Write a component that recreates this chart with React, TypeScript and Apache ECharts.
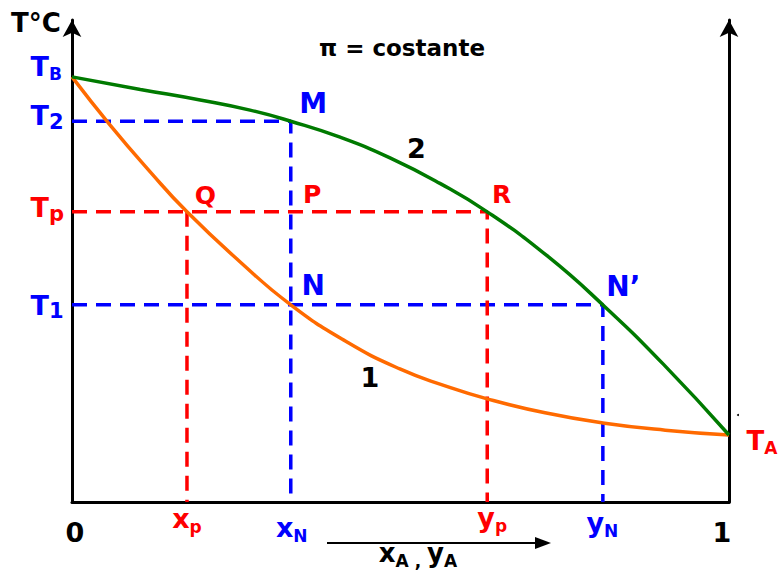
import { useEffect, useRef } from 'react';
import * as echarts from 'echarts';

const FONT = '"DejaVu Sans", "Liberation Sans", Arial, sans-serif';
const BLUE = '#0000ff';
const RED = '#ff0000';
const BLACK = '#000000';
const ORANGE = '#ff6a00';
const GREEN = '#007a00';

// Boiling points of the pure components and the isotherms
const T_B = 88.2;
const T_2 = 79;
const T_P = 60.2;
const T_1 = 40.9;
const T_A = 13.9;

// Compositions read on the isotherms (mole fraction of A)
const X_P = 0.175;
const X_N = 0.333;
const Y_P = 0.632;
const Y_N = 0.808;

// Curve 1: boiling (liquid) curve
const liquidX = [0, 0.058, 0.119, X_P, 0.256, X_N, 0.416, 0.499, 0.568, Y_P, 0.72, Y_N, 0.903, 1];
const liquidT = [T_B, 78.2, 68.5, T_P, 49.8, T_1, 33.4, 27.6, 24.1, 21.4, 18.5, 16.4, 14.9, T_A];

// Curve 2: dew (vapour) curve
const vaporX = [0, 0.104, 0.195, 0.271, X_N, 0.408, 0.484, 0.56, Y_P, 0.723, Y_N, 0.9, 1];
const vaporT = [T_B, 85.6, 83.4, 81.3, T_2, 75.7, 71.4, 66.1, T_P, 51.1, T_1, 28.6, T_A];

// Tick labels of the temperature axis
const tempTicks = [T_B, T_2, T_P, T_1];
const tempTickText = [['T', 'B'], ['T', '2'], ['T', 'p'], ['T', '1']];

// Tick labels of the composition axis
const compTicks = [0, X_P, X_N, Y_P, Y_N, 1];
const compTickText = [['0', ''], ['x', 'p'], ['x', 'N'], ['y', 'p'], ['y', 'N'], ['1', '']];

// Named points of the diagram
const pointNames = ['M', 'Q', 'P', 'R', 'N', 'N\u2019'];
const pointX = [X_N, X_P, X_N, Y_P, X_N, Y_N];
const pointT = [T_2, T_P, T_P, T_P, T_1, T_1];

// ---- label styling -------------------------------------------------------

function richSub(main: string, sub: string, color: string, ms: number, ss: number, drop: number) {
  const ls = ss + 2;
  const lm = Math.round(ls + 2 * (drop + 0.346 * (ms - ss)));
  const text = sub ? `{m|${main}}{s|${sub}}` : `{m|${main}}`;
  return {
    text,
    rich: {
      m: { color, fill: color, fontFamily: FONT, fontWeight: 'bold', fontSize: ms, lineHeight: lm },
      s: {
        color,
        fill: color,
        fontFamily: FONT,
        fontWeight: 'bold',
        fontSize: ss,
        lineHeight: ls,
        verticalAlign: 'bottom',
      },
    },
  };
}

function labelItem(
  x: number,
  t: number,
  r: { text: string; rich: any },
  dx: number,
  dy: number,
  align: 'left' | 'center' | 'right' = 'center'
) {
  return {
    value: [x, t],
    label: {
      show: true,
      opacity: 1,
      position: [dx, dy],
      align,
      verticalAlign: 'middle',
      formatter: () => r.text,
      rich: r.rich,
    },
  };
}

const tempTickColors = [BLUE, BLUE, RED, BLUE];
const tempTickSub = [17, 21, 21, 21];
const tempTickDy = [-10, -5, -3.5, 1];

const compTickColors = [BLACK, RED, BLUE, RED, BLUE, BLACK];
const compTickDx = [3.5, 0.5, 1.5, 5.5, 0, -6.5];
const compTickDy = [30.5, 16.5, 26, 15.5, 20.5, 30.5];

const pointColors = [BLUE, RED, RED, RED, BLUE, BLUE];
const pointSizes = [28, 25, 25, 25, 28, 28];
const pointDx = [23, 19, 22, 15, 23, 21];
const pointDy = [-17, -16, -17, -17, -19, -18];

function buildLabels() {
  const items: any[] = [];
  tempTicks.forEach((t, i) => {
    const [m, s] = tempTickText[i];
    items.push(labelItem(0, t, richSub(m, s, tempTickColors[i], 27, tempTickSub[i], 3), -41, tempTickDy[i], 'left'));
  });
  compTicks.forEach((x, i) => {
    const [m, s] = compTickText[i];
    items.push(labelItem(x, 0, richSub(m, s, compTickColors[i], 27, 17, 4), compTickDx[i], compTickDy[i]));
  });
  pointNames.forEach((n, i) => {
    items.push(labelItem(pointX[i], pointT[i], richSub(n, '', pointColors[i], pointSizes[i], 17, 0), pointDx[i], pointDy[i]));
  });
  // pure component A on the right axis
  items.push(labelItem(1, T_A, richSub('T', 'A', RED, 26, 17, 3), 18, 6.5, 'left'));
  // curve numbers
  items.push(labelItem(0.454, 25.7, richSub('1', '', BLACK, 27, 17, 0), 0, 0));
  items.push(labelItem(0.525, 73.2, richSub('2', '', BLACK, 27, 17, 0), 0, 0));
  return items;
}

const pairs = (xs: number[], ys: number[]) => xs.map((x, i) => [x, ys[i]]);

function guide(data: number[][], color: string) {
  return {
    type: 'line',
    data,
    symbol: 'none',
    silent: true,
    z: 2,
    lineStyle: { color, width: 3.5, type: [15, 9] },
  };
}

const axisLineStyle = { color: BLACK, width: 3 };

function valueAxis(position: 'left' | 'right') {
  return {
    type: 'value',
    min: 0,
    max: 100,
    position,
    axisLine: {
      show: true,
      onZero: false,
      symbol: ['none', 'arrow'],
      symbolSize: [14, 17],
      lineStyle: axisLineStyle,
    },
    axisTick: { show: false },
    axisLabel: { show: false },
    splitLine: { show: false },
  };
}

export default function App() {
  const ref = useRef<HTMLDivElement>(null);

  useEffect(() => {
    if (!ref.current) return;
    const chart = echarts.init(ref.current, undefined, { renderer: 'svg' });
    const xA = richSub('x', 'A , ', BLACK, 26, 17, 4);
    const yA = richSub('y', 'A', BLACK, 26, 17, 4);

    chart.setOption({
      animation: false,
      backgroundColor: '#ffffff',
      grid: { left: 72, right: 50, top: 20, bottom: 69 },
      xAxis: {
        type: 'value',
        min: 0,
        max: 1,
        axisLine: { show: true, onZero: false, lineStyle: axisLineStyle },
        axisTick: { show: false },
        axisLabel: { show: false },
        splitLine: { show: false },
      },
      yAxis: [valueAxis('left'), valueAxis('right')],
      series: [
        guide([[0, T_2], [X_N, T_2], [X_N, 0]], BLUE),
        guide([[0, T_1], [Y_N, T_1], [Y_N, 0]], BLUE),
        guide([[0, T_P], [Y_P, T_P], [Y_P, 0]], RED),
        guide([[X_P, T_P], [X_P, 0]], RED),
        {
          type: 'line',
          name: '1',
          data: pairs(liquidX, liquidT),
          smooth: 0.5,
          symbol: 'none',
          z: 3,
          lineStyle: { color: ORANGE, width: 3.5 },
        },
        {
          type: 'line',
          name: '2',
          data: pairs(vaporX, vaporT),
          smooth: 0.5,
          symbol: 'none',
          z: 3,
          lineStyle: { color: GREEN, width: 3.5 },
        },
        {
          type: 'scatter',
          symbolSize: 1,
          silent: true,
          z: 5,
          itemStyle: { color: 'transparent', opacity: 1 },
          data: buildLabels(),
        },
      ],
      graphic: [
        {
          type: 'text',
          x: 36,
          y: 23,
          style: {
            text: 'T°C',
            fontSize: 26,
            fontWeight: 'bold',
            fontFamily: FONT,
            fill: BLACK,
            align: 'center',
            verticalAlign: 'middle',
          },
        },
        {
          type: 'text',
          x: 402,
          y: 48,
          style: {
            text: 'π = costante',
            fontSize: 23,
            fontWeight: 'bold',
            fontFamily: FONT,
            fill: BLACK,
            align: 'center',
            verticalAlign: 'middle',
          },
        },
        {
          type: 'line',
          shape: { x1: 327, y1: 543, x2: 538, y2: 543 },
          style: { stroke: BLACK, lineWidth: 2 },
        },
        {
          type: 'polygon',
          shape: { points: [[535, 537], [551, 543], [535, 549]] },
          style: { fill: BLACK },
        },
        {
          type: 'text',
          x: 418,
          y: 553,
          style: {
            text: xA.text + yA.text,
            rich: xA.rich,
            fill: BLACK,
            align: 'center',
            verticalAlign: 'middle',
          },
        },
        {
          type: 'circle',
          shape: { cx: 738, cy: 415, r: 1 },
          style: { fill: BLACK },
        },
      ],
    });

    return () => chart.dispose();
  }, []);

  return (
    <div
      ref={ref}
      style={{ position: 'fixed', left: 0, top: 0, width: 779, height: 571, background: '#fff' }}
    />
  );
}
